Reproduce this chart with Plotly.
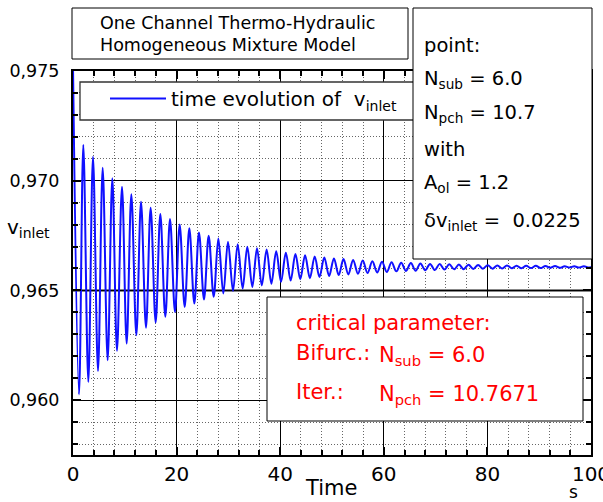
import plotly.graph_objects as go

# ---------------- data ----------------
time_s = [
    0.0,
    1.16, 1.99, 2.96, 3.86, 4.83, 5.73, 6.69, 7.59, 8.49, 9.46,
    10.36, 11.26, 12.23, 13.13, 14.09, 14.99, 15.96, 16.86, 17.82, 18.73,
    19.69, 20.59, 21.56, 22.46, 23.42, 24.32, 25.29, 26.19, 27.16, 28.06,
    29.02, 29.92, 30.89, 31.79, 32.75, 33.65, 34.62, 35.52,
    36.45, 37.38, 38.30, 39.23, 40.16, 41.09, 42.02, 42.94, 43.87, 44.80,
    45.73, 46.66, 47.58, 48.51, 49.44, 50.37, 51.30, 52.22, 53.15, 54.08,
    55.01, 55.94, 56.86, 57.79, 58.72, 59.65, 60.58, 61.50, 62.43, 63.36,
    64.29, 65.22, 66.14, 67.07, 68.00, 68.93, 69.86, 70.78, 71.71, 72.64,
    73.57, 74.50, 75.42, 76.35, 77.28, 78.21, 79.14, 80.06, 80.99, 81.92,
    82.85, 83.78, 84.70, 85.63, 86.56, 87.49, 88.42, 89.34, 90.27, 91.20,
    92.13, 93.06, 93.98, 94.91, 95.84, 96.77, 97.70, 98.62, 99.55, 100.0,
]
v_inlet = [
    0.9752,
    0.96026, 0.97163, 0.96083, 0.97109, 0.96133, 0.97059, 0.96182, 0.97011, 0.96225, 0.96972,
    0.96258, 0.96938, 0.96296, 0.96904, 0.96330, 0.96877, 0.96354, 0.96848, 0.96380, 0.96825,
    0.96402, 0.96801, 0.96425, 0.96783, 0.96440, 0.96764, 0.96459, 0.96749, 0.96471, 0.96737,
    0.96486, 0.96722, 0.96498, 0.96711, 0.96509, 0.96699, 0.96516, 0.96692,
    0.96523, 0.96687, 0.96531, 0.96679, 0.96539, 0.96672, 0.96545, 0.96666, 0.96551, 0.96660,
    0.96556, 0.96655, 0.96561, 0.96650, 0.96566, 0.96646, 0.96570, 0.96643, 0.96573, 0.96639,
    0.96576, 0.96636, 0.96579, 0.96633, 0.96582, 0.96631, 0.96584, 0.96628, 0.96587, 0.96626,
    0.96589, 0.96625, 0.96590, 0.96623, 0.96592, 0.96621, 0.96593, 0.96620, 0.96595, 0.96619,
    0.96596, 0.96618, 0.96597, 0.96617, 0.96598, 0.96616, 0.96599, 0.96615, 0.96599, 0.96614,
    0.96600, 0.96614, 0.96601, 0.96613, 0.96601, 0.96612, 0.96602, 0.96612, 0.96602, 0.96611,
    0.96603, 0.96611, 0.96603, 0.96610, 0.96604, 0.96610, 0.96604, 0.96610, 0.96604, 0.96607,
]
assert len(time_s) == len(v_inlet)

x_tickvals = [0, 20, 40, 60, 80, 100]
x_ticktext = ["0", "20", "40", "60", "80", "100"]
y_tickvals = [0.960, 0.965, 0.970, 0.975]
y_ticktext = ["0,960", "0,965", "0,970", "0,975"]
x_range = [0, 100]
y_range = [0.9575, 0.975]
reference_level = 0.965

legend_label = "time evolution of\u00a0\u00a0v<sub>inlet</sub>"
title_lines = ["One Channel Thermo-Hydraulic", "Homogeneous Mixture Model"]
point_lines = ["point:", "N<sub>sub</sub> = 6.0", "N<sub>pch</sub> = 10.7", "with",
               "A<sub>ol</sub> = 1.2", "\u03b4v<sub>inlet</sub> =  0.0225"]
crit_title = "critical parameter:"
crit_labels = ["Bifurc.:", "Iter.:"]
crit_values = ["N<sub>sub</sub> = 6.0", "N<sub>pch</sub> = 10.7671"]

# ---------------- layout geometry (pixels of the 603x502 page) ----------------
W, H = 603, 502
L, R, T, B = 73, 12, 71, 47
PW, PH = W - L - R, H - T - B


def px(x):
    return (x - L) / PW


def py(y):
    return (H - B - y) / PH


FONT = "DejaVu Sans, Arial, sans-serif"

fig = go.Figure()
fig.add_trace(go.Scatter(
    x=time_s, y=v_inlet, mode="lines", name=legend_label,
    line=dict(color="#1010ff", width=2, shape="spline", smoothing=1.0),
))

axis_common = dict(
    showline=True, linecolor="black", linewidth=2, mirror="allticks",
    ticks="inside", ticklen=8, tickwidth=1.5, tickcolor="black",
    showgrid=True, gridcolor="black", gridwidth=1, zeroline=False,
    ticklabeloverflow="allow", automargin=False,
)
fig.update_xaxes(
    range=x_range, tickvals=x_tickvals, ticktext=x_ticktext,
    tickfont=dict(family=FONT, size=20, color="black"), ticklabelstandoff=0,
    minor=dict(dtick=4, tick0=0, ticks="inside", ticklen=5, tickcolor="black",
               showgrid=True, gridcolor="#666", griddash="1px,2px", gridwidth=1),
    **axis_common,
)
fig.update_yaxes(
    range=y_range, tickvals=y_tickvals, ticktext=y_ticktext,
    tickfont=dict(family=FONT, size=17.5, color="black"), ticklabelstandoff=8,
    minor=dict(dtick=0.001, tick0=0.96, ticks="inside", ticklen=5, tickcolor="black",
               showgrid=True, gridcolor="#666", griddash="1px,2px", gridwidth=1),
    **axis_common,
)

shapes = [
    dict(type="line", xref="paper", yref="y", x0=0, x1=1, y0=reference_level, y1=reference_level,
         line=dict(color="#888888", width=3), layer="between"),
    # title box
    dict(type="rect", xref="paper", yref="paper", x0=px(72), x1=px(408), y0=py(59), y1=py(8),
         line=dict(color="black", width=1), fillcolor="white", layer="above"),
    # legend box
    dict(type="rect", xref="paper", yref="paper", x0=px(80), x1=px(430), y0=py(120), y1=py(82),
         line=dict(color="#333", width=1.3), fillcolor="white", layer="above"),
    # point box
    dict(type="rect", xref="paper", yref="paper", x0=px(413), x1=px(592), y0=py(259), y1=py(8),
         line=dict(color="black", width=1), fillcolor="white", layer="above"),
    # critical parameter box
    dict(type="rect", xref="paper", yref="paper", x0=px(267), x1=px(583), y0=py(421), y1=py(297),
         line=dict(color="black", width=1), fillcolor="white", layer="above"),
]

ann = []


def text(x, y, s, size, color="black", xanchor="left", yanchor="middle"):
    ann.append(dict(x=px(x), y=py(y), xref="paper", yref="paper", text=s, showarrow=False,
                    xanchor=xanchor, yanchor=yanchor, align="left",
                    font=dict(family=FONT, size=size, color=color)))


text(98, 23, title_lines[0], 17.5)
text(98, 45, title_lines[1], 17.5)

for s, yc in zip(point_lines, [46, 79, 114, 149, 183, 221]):
    text(422, yc, s, 19.5)

text(294, 323, crit_title, 21, color="red")
text(294, 353, crit_labels[0], 21, color="red")
text(294, 392, crit_labels[1], 21, color="red")
text(377, 356, crit_values[0], 21, color="red")
text(377, 395, crit_values[1], 21, color="red")

text(5, 228, "v<sub>inlet</sub>", 20)
text(331, 488, "Time", 21, xanchor="center")
text(573, 492, "s", 17, xanchor="center")

fig.update_layout(
    width=W, height=H,
    margin=dict(l=L, r=R, t=T, b=B, pad=0, autoexpand=False),
    paper_bgcolor="white", plot_bgcolor="white",
    font=dict(family=FONT, color="black"),
    showlegend=True,
    legend=dict(x=px(105), y=py(79), xanchor="left", yanchor="top",
                bgcolor="rgba(0,0,0,0)", borderwidth=0, itemwidth=56,
                font=dict(family=FONT, size=20, color="black")),
    shapes=shapes, annotations=ann,
)

fig.write_html(
    "out.html", config={"displayModeBar": False},
    post_script=("document.body.style.margin='0';"
                 "document.body.style.overflow='hidden';"
                 "document.documentElement.style.overflow='hidden';"),
)
